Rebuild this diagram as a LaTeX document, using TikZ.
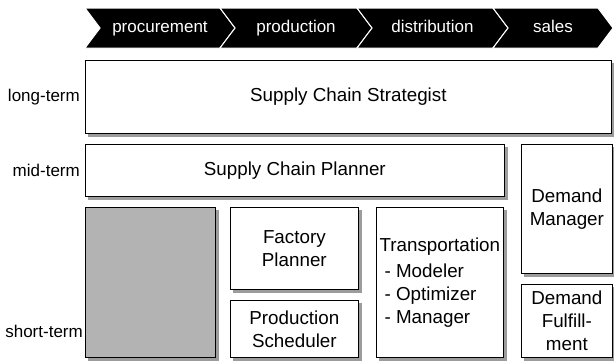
\documentclass[tikz,border=0pt]{standalone}
\usepackage{fontspec}
\setmainfont{Liberation Sans}
\usepackage{xcolor}
\usetikzlibrary{shapes.symbols, positioning, backgrounds}
\definecolor{shadowgray}{HTML}{9C9C9C}
\definecolor{fillgray}{HTML}{B3B3B3}

\begin{document}
\begin{tikzpicture}[
  x=1pt, y=-1pt,
  stage/.style={signal, signal from=west, signal to=east, signal pointer angle=106,
    fill=black, draw=white, line width=1pt, minimum height=40pt, inner sep=0pt,
    text height=12.5pt, text depth=3.5pt,
    text=white, font=\fontsize{17}{20}\selectfont},
  box/.style={draw=black, line width=0.7pt, fill=white, anchor=north west, inner sep=0pt,
    align=center, font=\fontsize{18.8}{23}\selectfont},
  horizon/.style={anchor=east, inner sep=0pt, font=\fontsize{17}{20}\selectfont},
]
  \useasboundingbox (0,0) rectangle (614,360);

  % value chain header
  \node[stage, minimum width=150pt] (procure) at (160,28) {procurement};
  \node[stage, minimum width=152pt] (produce) at (296,28) {production};
  \node[stage, minimum width=151pt] (distrib) at (432.5,28) {distribution};
  \node[stage, minimum width=120pt] (sell) at (553,28) {sales};

  % planning levels
  \node[box, minimum width=526pt, minimum height=73pt] (strategist) at (85,60) {Supply Chain Strategist};
  \node[box, minimum width=419pt, minimum height=52pt] (planner) at (85,144) {Supply Chain Planner};
  \node[box, minimum width=91pt, minimum height=129pt] (demand) at (521,144) {Demand\\Manager};
  \node[box, fill=fillgray, minimum width=130pt, minimum height=150pt] (blank) at (85,207) {};
  \node[box, minimum width=128pt, minimum height=82pt] (factory) at (230,207) {Factory\\Planner};
  \node[box, minimum width=128pt, minimum height=57pt] (scheduler) at (230,300) {Production\\Scheduler};
  \node[box, minimum width=127pt, minimum height=150pt, align=left] (transport) at (376,207)
    {Transportation\\[3pt]\hspace{5pt}- Modeler\\\hspace{5pt}- Optimizer\\\hspace{5pt}- Manager};
  \node[box, minimum width=91pt, minimum height=73pt] (fulfil) at (521,284) {Demand\\Fulfill-\\ment};

  % shadows
  \begin{scope}[on background layer]
    \foreach \n in {strategist, planner, demand, blank, factory, scheduler, transport, fulfil}
      \fill[shadowgray] ([shift={(3,3)}]\n.south west) rectangle ([shift={(3,3)}]\n.north east);
  \end{scope}

  % horizons
  \node[horizon] (long) at (80,97) {long-term};
  \node[horizon] (mid) at (80,170) {mid-term};
  \node[horizon] (short) at (83,331) {short-term};
\end{tikzpicture}
\end{document}
